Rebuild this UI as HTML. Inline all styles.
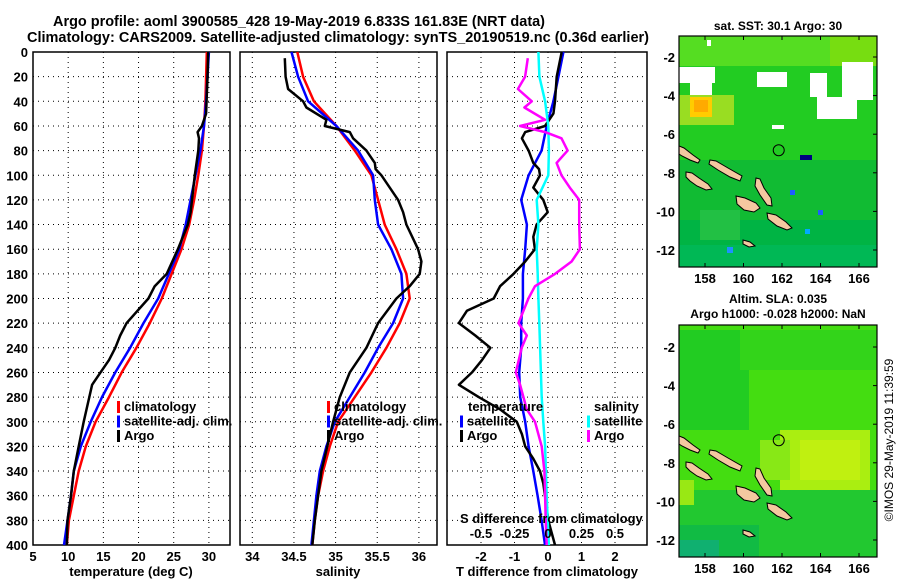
<!DOCTYPE html>
<html><head><meta charset="utf-8"><style>
body{margin:0;background:#fff;}
svg{display:block;font-family:"Liberation Sans",sans-serif;font-weight:bold;}
</style></head><body>
<svg id="c" width="900" height="580" viewBox="0 0 900 580" xmlns="http://www.w3.org/2000/svg">
<text x="53" y="26" font-size="14.5" textLength="492" lengthAdjust="spacingAndGlyphs">Argo profile: aoml 3900585_428 19-May-2019 6.833S 161.83E (NRT data)</text>
<text x="27" y="42" font-size="14.5" textLength="622" lengthAdjust="spacingAndGlyphs">Climatology: CARS2009. Satellite-adjusted climatology: synTS_20190519.nc (0.36d earlier)</text>
<g id="maps"></g>
<text transform="translate(893,440) rotate(-90)" font-size="12" font-weight="normal" text-anchor="middle">©IMOS 29-May-2019 11:39:59</text>
</svg>
<script>
const depths=[0,20,40,60,80,100,120,140,160,180,200,220,240,260,280,300,320,340,360,380,400];
const tClim=[29.7,29.6,29.5,29.3,29.0,28.5,27.9,27.2,26.1,24.7,23.3,21.6,19.7,17.6,15.8,13.9,12.5,11.5,10.8,10.1,9.8];
const tSat=[30.0,29.8,29.6,29.3,28.8,28.1,27.4,26.7,25.8,24.3,22.8,20.7,18.8,16.7,14.8,13.2,11.8,10.8,10.4,9.9,9.4];
const argoDepths=[0,20,50,60,65,70,80,100,120,130,140,160,180,190,200,220,230,240,250,260,270,280,300,320,340,360,380,400];
const tArgo=[29.9,29.8,29.6,29.0,28.4,28.6,28.5,28.0,27.6,27.4,27.0,25.6,24.0,22.3,21.4,18.3,17.4,16.7,15.8,14.6,13.4,13.0,12.2,11.5,10.8,10.4,9.9,9.8];
const sClim=[34.54,34.61,34.74,35.01,35.23,35.43,35.51,35.59,35.73,35.85,35.89,35.77,35.61,35.43,35.23,35.03,34.93,34.85,34.79,34.75,34.72];
const sSat=[34.47,34.55,34.67,35.01,35.27,35.45,35.47,35.51,35.67,35.79,35.81,35.69,35.51,35.35,35.17,34.99,34.89,34.81,34.77,34.74,34.71];
const sArgoDepths=[5,20,30,40,45,55,60,65,70,80,90,95,100,120,130,140,160,170,180,190,200,220,240,260,280,300,320,340,360,380,400];
const sArgo=[34.39,34.40,34.43,34.61,34.65,34.89,34.87,35.17,35.21,35.37,35.47,35.48,35.55,35.75,35.81,35.85,35.99,36.03,36.01,35.89,35.73,35.51,35.37,35.17,35.05,34.97,34.90,34.83,34.79,34.75,34.72];
const dtSat=[0.46,0.31,0.16,-0.04,-0.19,-0.58,-0.80,-0.63,-0.68,-0.75,-0.75,-0.80,-0.80,-0.86,-0.83,-0.68,-0.58,-0.44,-0.31,-0.19,-0.09];
const dtArgoDepths=[0,20,40,50,60,65,70,80,90,95,100,110,120,130,140,150,160,170,180,190,200,210,220,230,240,250,260,270,280,290,300,310,320,330,340,350,360,380,400];
const dtArgo=[0.41,0.26,0.21,0.16,-0.09,-0.68,-0.78,-0.58,-0.44,-0.27,-0.24,-0.44,-0.14,-0.01,-0.34,-0.44,-0.39,-0.68,-1.03,-1.43,-1.62,-2.42,-2.66,-2.17,-1.72,-1.97,-2.27,-2.66,-2.07,-1.43,-0.93,-0.78,-0.68,-0.44,-0.24,-0.14,-0.09,0.01,0.21];
const dsSat=[-0.072,-0.064,-0.022,0.002,0.007,0.002,-0.084,-0.072,-0.084,-0.077,-0.072,-0.065,-0.059,-0.053,-0.047,-0.035,-0.022,-0.016,-0.010,-0.002,0.007];
const dsArgoDepths=[5,20,30,40,45,55,60,65,70,80,90,100,110,120,140,160,170,180,190,200,220,230,240,260,270,290,300,320,340,360,380,400];
const dsArgo=[-0.151,-0.171,-0.225,-0.121,-0.176,-0.022,-0.208,-0.022,0.101,0.146,0.064,0.101,0.163,0.233,0.233,0.238,0.176,0.052,-0.097,-0.146,-0.22,-0.158,-0.196,-0.24,-0.208,-0.158,-0.097,-0.047,-0.027,-0.022,-0.017,-0.01];
const depthTicks=[0,20,40,60,80,100,120,140,160,180,200,220,240,260,280,300,320,340,360,380,400];
const tTicks=[5,10,15,20,25,30];
const sTicks=[34,34.5,35,35.5,36];
const dtTicks=[-2,-1,0,1,2];
const dsTicks=[-0.5,-0.25,0,0.25,0.5];
const lonTicks=[158,160,162,164,166];
const latTicks=[-2,-4,-6,-8,-10,-12];

const NS="http://www.w3.org/2000/svg";
const svg=document.getElementById('c');
function mk(tag,attrs,parent){const e=document.createElementNS(NS,tag);for(const k in attrs)e.setAttribute(k,attrs[k]);(parent||svg).appendChild(e);return e;}
const Y0=52,Y1=545;
const yD=d=>Y0+(Y1-Y0)*d/400;
const xT=t=>33+(t-5)*(197/28);
const xS=s=>252.3+(s-34)*83.3;
const xDT=v=>548+v*33.5;
const xDS=v=>548+v*134;
function panel(name,x0,x1,vt,fx){
  const g=mk('g',{});
  
  
  depthTicks.forEach(d=>{if(d>0&&d<400){const l=mk('line',{x1:x0,x2:x1,y1:yD(d),y2:yD(d),stroke:'#000','stroke-dasharray':'1,4','stroke-width':1},g);
    }});
  vt.forEach(v=>{const x=fx(v);if(x>x0+1&&x<x1-1){const l=mk('line',{x1:x,x2:x,y1:Y0,y2:Y1,stroke:'#000','stroke-dasharray':'1,4','stroke-width':1},g);
    }});
  const r=mk('rect',{x:x0,y:Y0,width:x1-x0,height:Y1-Y0,fill:'none',stroke:'#000','stroke-width':1.5},g);
  
  return g;
}
function line(g,name,xs,ds,fx,color){
  const p=mk('polyline',{points:xs.map((v,i)=>fx(v).toFixed(1)+','+yD(ds[i]).toFixed(1)).join(' '),fill:'none',stroke:color,'stroke-width':2.5,'stroke-linejoin':'round'},g);
  
}
function txt(s,x,y,attrs,name,parent){const t=mk('text',Object.assign({x:x,y:y,'font-size':13},attrs||{}),parent);t.textContent=s;
  return t;}
function legend(g,items,x,y){items.forEach((it,i)=>{const yy=y+i*14.5;
  const b=mk('rect',{x:x,y:yy-10,width:3,height:12,fill:it[1]},g);
  txt(it[0],x+7,yy,{},'legend-entry',g);});}

// Panel 1
const g1=panel('temperature-panel',33,230,tTicks,xT);
line(g1,'temp-climatology-line',tClim,depths,xT,'#f00');
line(g1,'temp-satellite-line',tSat,depths,xT,'#00f');
line(g1,'temp-argo-line',tArgo,argoDepths,xT,'#000');
legend(g1,[['climatology','#f00'],['satellite-adj. clim.','#00f'],['Argo','#000']],117,411);
depthTicks.forEach(d=>txt(String(d),28,yD(d)+5,{'text-anchor':'end'},'depth-tick-label'));
tTicks.forEach(t=>txt(String(t),xT(t),561,{'text-anchor':'middle'},'temp-tick-label'));
txt('temperature (deg C)',131,576,{'text-anchor':'middle'},'x-axis-title-temperature');

// Panel 2
const g2=panel('salinity-panel',240,437,sTicks,xS);
line(g2,'sal-climatology-line',sClim,depths,xS,'#f00');
line(g2,'sal-satellite-line',sSat,depths,xS,'#00f');
line(g2,'sal-argo-line',sArgo,sArgoDepths,xS,'#000');
legend(g2,[['climatology','#f00'],['satellite-adj. clim.','#00f'],['Argo','#000']],327,411);
sTicks.forEach(s=>txt(String(s),xS(s),561,{'text-anchor':'middle'},'salinity-tick-label'));
txt('salinity',338,576,{'text-anchor':'middle'},'x-axis-title-salinity');

// Panel 3
const g3=panel('difference-panel',447,647,dtTicks,xDT);
line(g3,'dT-satellite-line',dtSat,depths,xDT,'#00f');
line(g3,'dT-argo-line',dtArgo,dtArgoDepths,xDT,'#000');
line(g3,'dS-satellite-line',dsSat,depths,xDS,'#0ff');
line(g3,'dS-argo-line',dsArgo,dsArgoDepths,xDS,'#f0f');
txt('temperature',468,411,{},'legend-title-temperature',g3);
legend(g3,[['satellite','#00f'],['Argo','#000']],460,425.5);
txt('salinity',594,411,{},'legend-title-salinity',g3);
legend(g3,[['satellite','#0ff'],['Argo','#f0f']],587,425.5);
txt('S difference from climatology',460,523,{},'s-diff-axis-title',g3);
dsTicks.forEach(s=>txt(String(s),xDS(s),538,{'text-anchor':'middle'},'s-diff-tick-label',g3));
dtTicks.forEach(t=>txt(String(t),xDT(t),561,{'text-anchor':'middle'},'t-diff-tick-label'));
txt('T difference from climatology',547,576,{'text-anchor':'middle'},'x-axis-title-t-diff');

// Maps
const MX0=679,MX1=877;
const lonX=l=>705+(l-158)*19.25;
function drawMap(name,y0,y1,latY,bg,title1,title2){
  const g=mk('g',{});
  const cp=mk('clipPath',{id:name+'-clip'},g);mk('rect',{x:MX0,y:y0,width:MX1-MX0,height:y1-y0},cp);
  const inner=mk('g',{'clip-path':'url(#'+name+'-clip)'},g);
  bg(inner);
  const isl=[[ [679,146],[684,148],[693,155],[700,160],[698,163],[690,160],[682,156],[679,154] ],
    [[710,160],[716,161],[728,168],[742,176],[740,181],[730,177],[718,170],[709,164]],
    [[686,172],[692,173],[699,178],[708,184],[712,189],[706,190],[697,186],[690,181],[686,177]],
    [[756,178],[760,179],[764,188],[771,198],[772,206],[767,205],[760,195],[755,186]],
    [[736,196],[745,198],[756,203],[760,208],[754,212],[744,210],[737,204]],
    [[767,213],[776,215],[786,222],[792,228],[787,230],[777,226],[768,219]],
    [[743,240],[750,242],[755,246],[749,247],[743,244]]];
  const dy=latY(-2)-57;
  isl.forEach(p=>{const q=mk('polygon',{points:p.map(a=>a[0]+','+(a[1]+dy)).join(' '),fill:'#f4c8a0',stroke:'#000','stroke-width':1},inner);
    });
  const c=mk('circle',{cx:lonX(161.83),cy:latY(-6.833),r:5.5,fill:'none',stroke:'#000','stroke-width':1},inner);
  
  const fr=mk('rect',{x:MX0,y:y0,width:MX1-MX0,height:y1-y0,fill:'none',stroke:'#000','stroke-width':1.2},g);
  
  lonTicks.forEach(l=>{mk('line',{x1:lonX(l),x2:lonX(l),y1:y0,y2:y0+4,stroke:'#000'},g);mk('line',{x1:lonX(l),x2:lonX(l),y1:y1,y2:y1-4,stroke:'#000'},g);
    txt(String(l),lonX(l),y1+16,{'text-anchor':'middle'},'lon-tick-label',g);});
  latTicks.forEach(l=>{mk('line',{x1:MX1,x2:MX1-4,y1:latY(l),y2:latY(l),stroke:'#000'},g);
    txt(String(l),675,latY(l)+5,{'text-anchor':'end'},'lat-tick-label',g);});
  txt(title1,778,y0-(title2?22:6),{'text-anchor':'middle','font-size':12},'map-title',g);
  if(title2)txt(title2,778,y0-7,{'text-anchor':'middle','font-size':12},'map-subtitle',g);
}
const R=(g,x,y,w,h,f)=>mk('rect',{x:x,y:y,width:w,height:h,fill:f},g);
drawMap('sst-map',36,267,l=>57+(-2-l)*19.3,g=>{
  R(g,679,36,198,231,'#22cc22');
  R(g,679,36,198,30,'#55dd22');
  R(g,830,36,47,30,'#77dd11');
  R(g,679,95,55,30,'#99dd22');R(g,690,97,22,20,'#ffcc00');R(g,694,100,14,12,'#ffaa00');
  R(g,679,160,198,107,'#11bb33');R(g,679,220,198,47,'#00b444');R(g,679,245,198,22,'#00b855');
  R(g,700,210,40,30,'#22c044');R(g,727,247,6,6,'#1e90ff');R(g,800,155,12,5,'#000080');R(g,805,229,5,5,'#00aaff');R(g,818,210,5,5,'#1e5eff');R(g,790,190,5,5,'#1e5eff');
  R(g,679,67,36,16,'#fff');R(g,690,83,22,12,'#fff');R(g,757,72,30,15,'#fff');R(g,810,73,17,24,'#fff');R(g,817,97,40,22,'#fff');R(g,842,62,31,38,'#fff');R(g,772,125,12,4,'#fff');R(g,707,40,4,6,'#fff');
},'sat. SST: 30.1 Argo: 30','');
drawMap('sla-map',325,557,l=>347+(-2-l)*19.3,g=>{
  R(g,679,325,198,232,'#44dd11');
  R(g,679,330,70,100,'#22cc22');R(g,740,330,137,40,'#33d41a');
  R(g,780,430,90,60,'#aaee11');R(g,800,440,60,40,'#c0f010');R(g,760,440,30,40,'#88e816');
  R(g,679,490,198,67,'#22c830');R(g,679,525,80,32,'#11bb44');R(g,679,540,40,17,'#10b070');
  R(g,679,480,15,25,'#99e814');
},'Altim. SLA: 0.035','Argo h1000: -0.028 h2000: NaN');
</script>
</body></html>
